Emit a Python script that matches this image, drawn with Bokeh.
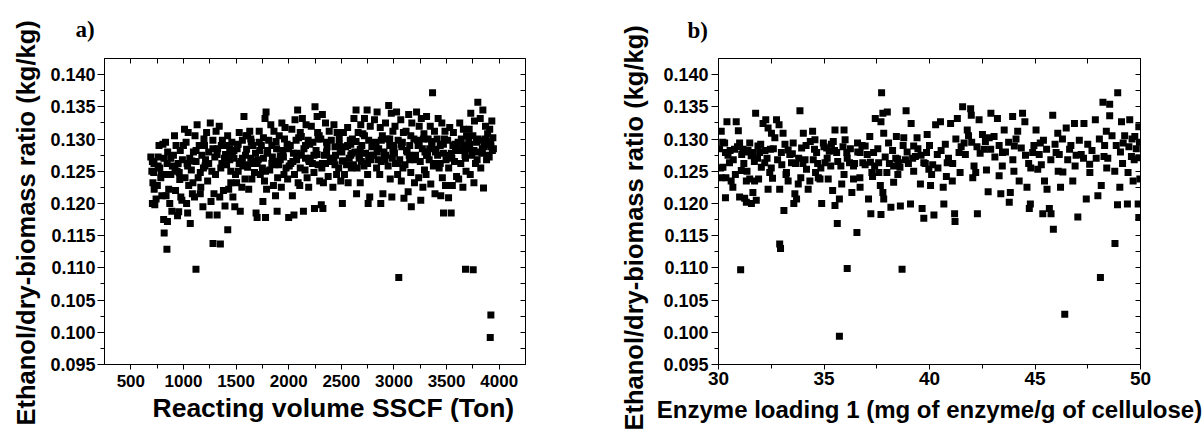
from bokeh.plotting import figure
from bokeh.models import (Range1d, FixedTicker, LinearAxis, NumeralTickFormatter, Title,
                          CustomLabelingPolicy)
from bokeh.layouts import row
from bokeh.embed import file_html
from bokeh.resources import INLINE

# ---------------- panel a) : Reacting volume SSCF (Ton) ----------------
vol_x = [
    690, 705, 700, 718, 710, 722, 705, 728, 740, 752, 768, 760, 775, 785, 795,
    805, 830, 815, 845, 822, 860, 835, 870, 812, 848, 817, 843, 890, 880, 895,
    915, 930, 905, 950, 940, 965, 925, 975, 985, 955, 944, 990, 970,
    1010, 1045, 1025, 1060, 1035, 1075, 1015, 1050, 1085, 1030, 1040, 1065, 1095, 1090,
    1130, 1110, 1150, 1175, 1120, 1190, 1140, 1165, 1105, 1185, 1119, 1160, 1195,
    1255, 1220, 1280, 1240, 1210, 1270, 1230, 1290, 1262, 1245, 1281, 1205, 1298,
    1340, 1310, 1370, 1325, 1390, 1355, 1305, 1380, 1345, 1395, 1320, 1351, 1365,
    1420, 1460, 1440, 1480, 1410, 1495, 1450, 1430, 1470, 1488, 1421, 1465, 1405,
    1575, 1530, 1560, 1510, 1590, 1545, 1520, 1585, 1555, 1505, 1540, 1595, 1565,
    1630, 1610, 1660, 1685, 1640, 1605, 1675, 1650, 1620, 1690, 1700, 1665, 1645,
    1785, 1775, 1720, 1760, 1740, 1795, 1710, 1750, 1730, 1770, 1790, 1755, 1780, 1725,
    1830, 1860, 1810, 1885, 1845, 1870, 1820, 1895, 1855, 1875, 1890, 1840,
    1935, 1965, 1910, 1985, 1945, 1920, 1975, 1955, 1990, 1930, 2000, 1905,
    2085, 2060, 2030, 2095, 2015, 2045, 2075, 2005, 2055, 2090, 2035, 2050, 2070,
    2130, 2165, 2110, 2185, 2145, 2120, 2195, 2155, 2175, 2105, 2140, 2190, 2160,
    2250, 2270, 2215, 2290, 2230, 2260, 2205, 2280, 2240, 2295, 2245, 2225, 2275,
    2320, 2350, 2385, 2305, 2365, 2340, 2395, 2315, 2375, 2330, 2310, 2325, 2360,
    2430, 2460, 2405, 2490, 2445, 2415, 2475, 2455, 2495, 2420, 2480, 2440,
    2560, 2520, 2585, 2540, 2505, 2575, 2550, 2595, 2530, 2565, 2510, 2590,
    2640, 2620, 2685, 2660, 2605, 2695, 2630, 2670, 2615, 2650, 2680, 2645, 2690,
    2745, 2720, 2775, 2705, 2760, 2790, 2730, 2780, 2715, 2750, 2770, 2755, 2795,
    2840, 2815, 2870, 2890, 2825, 2855, 2805, 2880, 2835, 2865, 2895, 2875, 2850,
    2950, 2975, 2920, 2990, 2935, 2960, 2905, 2985, 2945, 2965, 2980, 2915, 2995,
    3025, 3065, 3010, 3090, 3040, 3075, 3005, 3055, 3085, 3035, 3070, 3095, 3046, 3015,
    3140, 3170, 3115, 3190, 3150, 3125, 3180, 3105, 3160, 3195, 3135, 3165, 3145,
    3215, 3260, 3240, 3285, 3225, 3270, 3205, 3250, 3290, 3235, 3275, 3255, 3295,
    3367, 3310, 3345, 3385, 3325, 3360, 3395, 3335, 3375, 3305, 3350, 3390, 3340,
    3420, 3455, 3485, 3410, 3440, 3470, 3495, 3430, 3460, 3490, 3445, 3471, 3415,
    3530, 3565, 3510, 3585, 3545, 3575, 3520, 3595, 3555, 3519, 3544, 3580,
    3625, 3660, 3690, 3610, 3645, 3675, 3635, 3685, 3615, 3655, 3680, 3665,
    3797, 3730, 3765, 3715, 3750, 3785, 3705, 3740, 3775, 3725, 3760, 3753, 3790,
    3845, 3820, 3870, 3890, 3810, 3855, 3835, 3880, 3825, 3851, 3865, 3895,
    3930, 3910, 3940, 3920, 3935, 3905, 3921, 3915,
]
vol_y = [
    .1272, .1265, .1250, .1248, .1232, .1222, .1200, .1198, .1207, .1228, .1290, .1272, .1255, .1240, .1212,
    .1292, .1295, .1270, .1262, .1245, .1222, .1212, .1200, .1175, .1172, .1154, .1129, .1188, .1245, .1258,
    .1305, .1290, .1275, .1262, .1250, .1237, .1220, .1210, .1205, .1187, .1181, .1268, .1282,
    .1315, .1310, .1295, .1270, .1262, .1252, .1240, .1228, .1215, .1200, .1185, .1169, .1280, .1232,
    .1322, .1305, .1290, .1275, .1265, .1255, .1240, .1225, .1210, .1195, .1098, .1215, .1300,
    .1325, .1310, .1298, .1280, .1268, .1250, .1235, .1215, .1203, .1182, .1138, .1258, .1272,
    .1320, .1312, .1298, .1285, .1270, .1255, .1245, .1220, .1210, .1196, .1182, .1137, .1262,
    .1305, .1295, .1285, .1270, .1260, .1245, .1232, .1222, .1210, .1195, .1159, .1278, .1290,
    .1335, .1310, .1298, .1285, .1275, .1265, .1250, .1238, .1225, .1232, .1188, .1305, .1258,
    .1312, .1305, .1290, .1278, .1270, .1260, .1248, .1238, .1222, .1185, .1178, .1262, .1295,
    .1342, .1332, .1312, .1302, .1290, .1278, .1268, .1255, .1245, .1235, .1222, .1203, .1178, .1282,
    .1322, .1312, .1298, .1285, .1272, .1260, .1252, .1240, .1228, .1212, .1188, .1290,
    .1325, .1318, .1305, .1292, .1282, .1268, .1255, .1245, .1238, .1225, .1178, .1260,
    .1345, .1330, .1315, .1302, .1290, .1278, .1268, .1258, .1245, .1232, .1212, .1182, .1298,
    .1332, .1322, .1310, .1298, .1285, .1275, .1265, .1252, .1240, .1228, .1188, .1225, .1290,
    .1350, .1335, .1320, .1305, .1295, .1282, .1270, .1260, .1248, .1235, .1192, .1262, .1310,
    .1338, .1325, .1312, .1300, .1288, .1275, .1265, .1255, .1242, .1232, .1198, .1192, .1280,
    .1322, .1310, .1298, .1285, .1275, .1265, .1255, .1245, .1235, .1225, .1292, .1260,
    .1318, .1310, .1298, .1288, .1280, .1270, .1260, .1255, .1245, .1232, .1200, .1275,
    .1345, .1332, .1322, .1310, .1300, .1290, .1280, .1270, .1260, .1255, .1232, .1215, .1265,
    .1345, .1332, .1320, .1308, .1298, .1288, .1278, .1268, .1258, .1245, .1210, .1200, .1275,
    .1342, .1330, .1318, .1305, .1295, .1285, .1275, .1265, .1255, .1245, .1215, .1200, .1268,
    .1352, .1340, .1325, .1312, .1300, .1290, .1280, .1270, .1258, .1238, .1210, .1268, .1290,
    .1342, .1330, .1320, .1310, .1298, .1288, .1278, .1268, .1255, .1245, .1235, .1208, .1085, .1262,
    .1338, .1325, .1312, .1300, .1290, .1280, .1270, .1260, .1248, .1232, .1218, .1195, .1275,
    .1342, .1332, .1320, .1308, .1298, .1285, .1275, .1265, .1252, .1240, .1225, .1205, .1280,
    .1372, .1335, .1320, .1312, .1300, .1290, .1280, .1268, .1258, .1245, .1230, .1215, .1285,
    .1332, .1325, .1312, .1300, .1290, .1278, .1268, .1255, .1240, .1228, .1212, .1185, .1275,
    .1318, .1310, .1298, .1288, .1278, .1265, .1255, .1242, .1228, .1209, .1185, .1292,
    .1325, .1315, .1305, .1295, .1285, .1275, .1262, .1250, .1238, .1225, .1098, .1290,
    .1357, .1340, .1328, .1315, .1305, .1295, .1285, .1275, .1262, .1245, .1232, .1097, .1280,
    .1345, .1332, .1320, .1308, .1298, .1288, .1278, .1268, .1255, .1224, .1292, .1275,
    .1328, .1315, .1302, .1292, .1282, .1272, .1027, .0992,
]
# denser middle of the band in panel a)
vol_band_x = [
    720, 760, 790, 850, 880, 920, 960, 1000, 1040, 1080, 1120, 1160, 1200, 1240, 1280, 1320, 1360, 1400,
    1440, 1480, 1520, 1560, 1600, 1640, 1680, 1720, 1760, 1800, 1840, 1880, 1920, 1960, 2000, 2040, 2080,
    2120, 2160, 2200, 2240, 2280, 2320, 2360, 2400, 2440, 2480, 2520, 2560, 2600, 2640, 2680, 2720, 2760,
    2800, 2840, 2880, 2920, 2960, 3000, 3040, 3080, 3120, 3160, 3200, 3240, 3280, 3320, 3360, 3400, 3440,
    3480, 3520, 3560, 3600, 3640, 3680, 3720, 3760, 3800, 3840, 3880, 3920,
    1450, 1530, 1610, 1700, 1780, 1870, 1950, 2020, 2110, 2190, 2270, 2350, 2430, 2510, 2590, 2670,
    2750, 2830, 2910, 2990, 3070, 3150, 3230, 3310, 3390, 3470, 3550, 3630, 3710, 3790, 3870, 3945,
]
vol_band_y = [
    .1262, .1258, .1245, .1280, .1270, .1255, .1248, .1290, .1258, .1266, .1282, .1248, .1290, .1262, .1285, .1276, .1290, .1276,
    .1268, .1282, .1292, .1270, .1284, .1300, .1266, .1295, .1270, .1282, .1262, .1296, .1274, .1300, .1285, .1265, .1278,
    .1304, .1270, .1292, .1275, .1300, .1262, .1295, .1270, .1288, .1302, .1266, .1290, .1278, .1296, .1284, .1305, .1270,
    .1290, .1280, .1298, .1275, .1300, .1286, .1262, .1295, .1282, .1305, .1268, .1292, .1300, .1275, .1296, .1284, .1262,
    .1300, .1275, .1290, .1282, .1300, .1270, .1292, .1282, .1300, .1285, .1296, .1288,
    .1250, .1262, .1256, .1262, .1250, .1265, .1272, .1262, .1255, .1268, .1276, .1262, .1270, .1266, .1292, .1275,
    .1262, .1290, .1272, .1280, .1292, .1268, .1290, .1275, .1262, .1292, .1270, .1282, .1298, .1268, .1300, .1285,
]

# ---------------- panel b) : Enzyme loading 1 ----------------
enz_x = [
    30.13, 30.21, 30.40, 30.29, 30.33, 30.13, 30.33, 30.52, 30.60, 30.68, 30.84, 30.94, 31.00, 30.76, 31.08, 31.00, 31.05,
    31.16, 31.32, 31.48, 31.63, 31.76, 31.87, 32.03, 32.11, 32.24, 32.35, 32.46, 32.51, 31.32, 31.48, 31.71, 31.63, 31.79,
    31.56, 31.32, 31.24, 31.95, 32.19, 32.43, 32.56, 32.35,
    32.67, 32.75, 32.87, 32.98, 33.06, 32.90, 33.10, 32.90, 32.94, 33.22, 33.30, 33.46, 33.54, 33.62, 33.70, 33.57, 33.86,
    33.94, 34.02, 34.10, 33.78, 33.38, 34.17,
    34.25, 34.33, 34.46, 34.57, 34.65, 34.73, 34.81, 34.89, 34.97, 35.05, 35.13, 35.25, 35.32, 35.41, 35.52, 35.60, 35.63,
    35.73, 35.52, 35.73, 35.44, 34.49,
    35.84, 35.95, 36.00, 36.08, 36.10, 36.21, 36.32, 36.40, 36.56, 36.59, 36.71, 36.71, 36.84, 36.95, 37.11, 37.22, 37.27,
    37.35, 36.40, 37.17,
    37.43, 37.59, 37.73, 37.70, 37.79, 37.83, 37.67, 37.79, 37.83, 37.70, 38.00, 38.06, 38.17, 38.30, 38.43, 38.49, 38.62,
    38.70, 38.78, 38.89, 38.86, 38.94, 39.10, 39.13, 39.25, 39.33, 39.41, 39.57, 39.65, 39.73, 39.86, 39.89, 40.05, 40.21,
    39.97, 39.73, 38.54, 37.98, 38.30,
    40.29, 40.37, 40.52, 40.65, 40.68, 40.84, 41.00, 41.08, 41.19, 41.21, 41.32, 41.40, 41.57, 41.64, 41.79, 41.95, 41.98,
    42.11, 42.19, 42.27, 42.35, 42.51, 42.59, 42.78, 42.83, 42.91, 43.06, 43.22, 43.30, 43.38, 43.46, 43.54, 43.78, 43.83,
    43.94, 44.02, 44.18, 44.25, 44.41, 44.52, 44.62, 44.73, 44.78, 44.89,
    45.05, 45.13, 45.25, 45.37, 45.45, 45.57, 45.68, 45.76, 45.84, 45.87, 46.00, 46.08, 46.21, 46.32, 46.41, 46.48, 46.64,
    46.79, 46.87, 47.03, 47.19, 47.32, 47.43, 47.59, 47.86, 47.98, 48.10, 48.14, 48.22, 48.27, 48.38, 48.54, 48.54, 48.78,
    48.79, 48.91, 48.92, 49.02, 49.10, 49.18, 49.38, 49.41, 49.49, 49.57, 49.65, 49.73, 49.89, 49.92, 49.92, 49.92, 49.97,
]
enz_y = [
    .1312, .1256, .1327, .1294, .1279, .1240, .1209, .1263, .1235, .1225, .1327, .1313, .1294, .1284, .1251, .1210, .1097,
    .1284, .1280, .1294, .1279, .1340, .1289, .1256, .1324, .1330, .1317, .1284, .1309, .1235, .1238, .1235, .1217, .1205,
    .1200, .1202, .1208, .1279, .1263, .1248, .1239, .1222,
    .1302, .1330, .1322, .1279, .1309, .1222, .1189, .1137, .1130, .1248, .1235, .1263, .1294, .1215, .1207, .1200, .1344,
    .1286, .1309, .1268, .1230, .1276, .1253,
    .1222, .1235, .1312, .1299, .1279, .1240, .1238, .1200, .1294, .1263, .1286, .1281, .1258, .1220, .1314, .1279, .1169,
    .0994, .1197, .1207, .1296, .1268,
    .1230, .1314, .1299, .1279, .1099, .1263, .1217, .1238, .1155, .1294, .1279, .1225, .1263, .1289, .1207, .1184, .1248,
    .1279, .1258, .1304,
    .1332, .1263, .1372, .1327, .1340, .1309, .1228, .1217, .1207, .1183, .1342, .1294, .1194, .1258, .1304, .1269, .1196,
    .1098, .1302, .1344, .1268, .1280, .1199, .1324, .1289, .1273, .1302, .1230, .1192, .1177, .1279, .1307, .1228, .1182,
    .1253, .1263, .1263, .1248, .1233,
    .1322, .1276, .1327, .1225, .1199, .1263, .1324, .1235, .1184, .1172, .1332, .1279, .1350, .1294, .1314, .1347, .1337,
    .1258, .1248, .1184, .1330, .1307, .1284, .1218, .1302, .1340, .1304, .1332, .1243, .1215, .1279, .1314, .1202, .1217,
    .1335, .1289, .1312, .1235, .1340, .1327, .1225, .1192, .1199, .1279,
    .1314, .1253, .1294, .1184, .1235, .1222, .1192, .1184, .1337, .1160, .1279, .1309, .1225, .1249, .1028, .1317, .1284,
    .1235, .1324, .1179, .1276, .1324, .1207, .1261, .1330, .1212, .1085, .1228, .1357, .1273, .1312, .1354, .1336, .1250,
    .1138, .1198, .1372, .1225, .1327, .1294, .1199, .1248, .1330, .1273, .1235, .1304, .1199, .1178, .1319, .1271, .1238,
]
# denser middle of the band in panel b)
enz_band_x = [
    30.05, 30.2, 30.45, 30.55, 30.7, 30.9, 31.1, 31.2, 31.4, 31.55, 31.7, 31.85, 32.0, 32.2, 32.3, 32.6, 32.8, 33.0,
    33.15, 33.3, 33.5, 33.65, 33.8, 34.0, 34.15, 34.35, 34.55, 34.7, 34.85, 35.0, 35.15, 35.35, 35.5, 35.65, 35.8,
    35.9, 36.1, 36.25, 36.45, 36.6, 36.8, 36.95, 37.05, 37.2, 37.4, 37.55, 37.9, 38.1, 38.25, 38.4, 38.6, 38.75,
    39.0, 39.2, 39.45, 39.6, 39.8, 40.0, 40.15, 40.4, 40.55, 40.75, 40.9, 41.1, 41.25, 41.5, 41.7, 41.85, 42.0,
    42.25, 42.4, 42.65, 42.9, 43.1, 43.3, 43.6, 43.75, 43.95, 44.1, 44.35, 44.55, 44.7, 44.95, 45.2, 45.4, 45.55,
    45.75, 45.95, 46.15, 46.3, 46.55, 46.7, 46.95, 47.1, 47.3, 47.5, 47.7, 47.9, 48.05, 48.3, 48.45, 48.65, 48.85,
    49.05, 49.25, 49.45, 49.6, 49.8, 49.95,
    30.1, 30.35, 30.8, 31.35, 31.9, 32.5, 33.2, 33.9, 34.6, 35.2, 35.95, 36.7, 37.3, 37.6, 38.5, 39.25, 40.1, 40.8,
    41.45, 42.05, 42.7, 43.45, 44.0, 44.8, 45.3, 46.1, 46.9, 47.6, 48.4, 49.15, 49.7,
]
enz_band_y = [
    .1285, .1295, .1275, .1282, .1268, .1288, .1276, .1262, .1282, .1274, .1265, .1270, .1292, .1282, .1270, .1285, .1268, .1260,
    .1292, .1283, .1277, .1262, .1270, .1262, .1290, .1296, .1284, .1262, .1255, .1288, .1270, .1292, .1282, .1265, .1258,
    .1288, .1270, .1285, .1262, .1280, .1290, .1260, .1276, .1264, .1258, .1285, .1272, .1262, .1282, .1270, .1256, .1290,
    .1262, .1270, .1285, .1275, .1262, .1290, .1260, .1255, .1282, .1292, .1270, .1262, .1300, .1288, .1276, .1305, .1295,
    .1288, .1278, .1296, .1284, .1272, .1290, .1280, .1295, .1268, .1300, .1286, .1275, .1262, .1290, .1276, .1298, .1284,
    .1268, .1292, .1276, .1300, .1268, .1290, .1275, .1298, .1270, .1292, .1282, .1270, .1300, .1290, .1270, .1305, .1290,
    .1280, .1305, .1288, .1300, .1285, .1295,
    .1255, .1240, .1245, .1250, .1238, .1255, .1245, .1240, .1248, .1238, .1245, .1240, .1242, .1248, .1245, .1250, .1245, .1242,
    .1248, .1240, .1252, .1258, .1250, .1255, .1260, .1250, .1258, .1248, .1255, .1262, .1268,
]

y_ticks = [0.095, 0.100, 0.105, 0.110, 0.115, 0.120, 0.125, 0.130, 0.135, 0.140]
vol_ticks = [500, 1000, 1500, 2000, 2500, 3000, 3500, 4000]
enz_ticks = [30, 35, 40, 45, 50]

y_label = "Ethanol/dry-biomass ratio (kg/kg)"
vol_label = "Reacting volume SSCF (Ton)"
enz_label = "Enzyme loading 1 (mg of enzyme/g of cellulose)"

for a, b, n in [(vol_x, vol_y, "vol"), (vol_band_x, vol_band_y, "volband"),
                (enz_x, enz_y, "enz"), (enz_band_x, enz_band_y, "band")]:
    if len(a) != len(b):
        raise SystemExit(f"length mismatch {n}: {len(a)} vs {len(b)}")

FONT = "Liberation Sans"
NO_LABELS = "for (const i of indices) { indices.unset(i) }\nreturn indices"


def mids(t):
    return [(a + b) / 2 for a, b in zip(t[:-1], t[1:])]


def side_title(text, size, align, offset, standoff):
    return Title(text=text, align=align, vertical_align="bottom", offset=offset,
                 standoff=standoff, text_font=FONT, text_font_style="bold",
                 text_font_size=size, text_color="black")


def panel(xs, ys, xr, xticks, xminor, xlabel, tag, width, left, right, top, bottom, cfg):
    p = figure(width=width, height=432, x_range=Range1d(*xr), y_range=Range1d(0.095, 0.1425),
               output_backend="svg", toolbar_location=None,
               min_border_left=left, min_border_right=right,
               min_border_top=top, min_border_bottom=bottom)
    p.grid.visible = False
    p.outline_line_color = "black"
    p.outline_line_width = 1
    p.background_fill_color = "white"
    p.border_fill_color = "white"

    xt = FixedTicker(ticks=xticks, minor_ticks=xminor)
    yt = FixedTicker(ticks=y_ticks, minor_ticks=mids(y_ticks))

    xa = p.xaxis[0]
    xa.ticker = xt
    xa.formatter = NumeralTickFormatter(format="0")
    ya = p.yaxis[0]
    ya.ticker = yt
    ya.formatter = NumeralTickFormatter(format="0.000")

    for ax, tsize in [(xa, cfg["xtick"]), (ya, cfg["ytick"])]:
        ax.major_label_text_font = FONT
        ax.major_label_text_font_style = "bold"
        ax.major_label_text_font_size = tsize
        ax.major_label_text_color = "black"
        ax.axis_line_color = "black"
        ax.major_tick_line_color = "black"
        ax.minor_tick_line_color = "black"
        ax.major_tick_in = 0
        ax.minor_tick_in = 0
    xa.major_tick_out = 5
    xa.minor_tick_out = 4
    xa.major_label_standoff = cfg["xstand"]
    ya.major_tick_out = 7
    ya.minor_tick_out = 4
    ya.major_label_standoff = cfg["ystand"]

    for loc, tk in [("above", xt), ("right", yt)]:
        ax2 = LinearAxis(ticker=tk, major_label_text_font_size="0px", major_label_standoff=0,
                         major_label_policy=CustomLabelingPolicy(code=NO_LABELS),
                         major_tick_in=5, major_tick_out=0, minor_tick_in=5, minor_tick_out=0,
                         axis_line_color="black", major_tick_line_color="black",
                         minor_tick_line_color="black")
        p.add_layout(ax2, loc)

    # axis titles as side titles (so they can be shifted like in the reference)
    p.add_layout(side_title(xlabel, *cfg["xtitle"]), "below")
    p.add_layout(side_title(y_label, *cfg["ytitle"]), "left")

    p.title.text = tag
    p.title.text_font = "Liberation Serif"
    p.title.text_font_style = "bold"
    p.title.text_font_size = "23px"
    p.title.text_color = "black"
    p.title.align = "left"
    p.title.vertical_align = "top"
    p.title.offset = cfg["tag"][0]
    p.title.standoff = cfg["tag"][1]

    p.scatter(xs, ys, marker="square", size=7, fill_color="black", line_color=None)
    return p


p1 = panel(vol_x + vol_band_x, vol_y + vol_band_y, (250, 4250), vol_ticks,
           [750 + 500 * i for i in range(7)], vol_label, "a)", 560, 104, 35, 58, 64,
           {"xtick": "17px", "ytick": "18px", "xstand": 5, "ystand": 2,
            "xtitle": ("26.5px", "left", 48, 2), "ytitle": ("25.5px", "left", -61, 15),
            "tag": (-29, 30)})
p2 = panel(enz_x + enz_band_x, enz_y + enz_band_y, (30, 50), enz_ticks, mids(enz_ticks),
           enz_label, "b)", 643, 158, 63, 55, 68,
           {"xtick": "19px", "ytick": "18px", "xstand": 2, "ystand": 3,
            "xtitle": ("24px", "center", 0, 12), "ytitle": ("25.5px", "left", -66, 26),
            "tag": (-31, 27)})

layout = row(p1, p2)
open("out.html", "w").write(file_html(layout, INLINE))
